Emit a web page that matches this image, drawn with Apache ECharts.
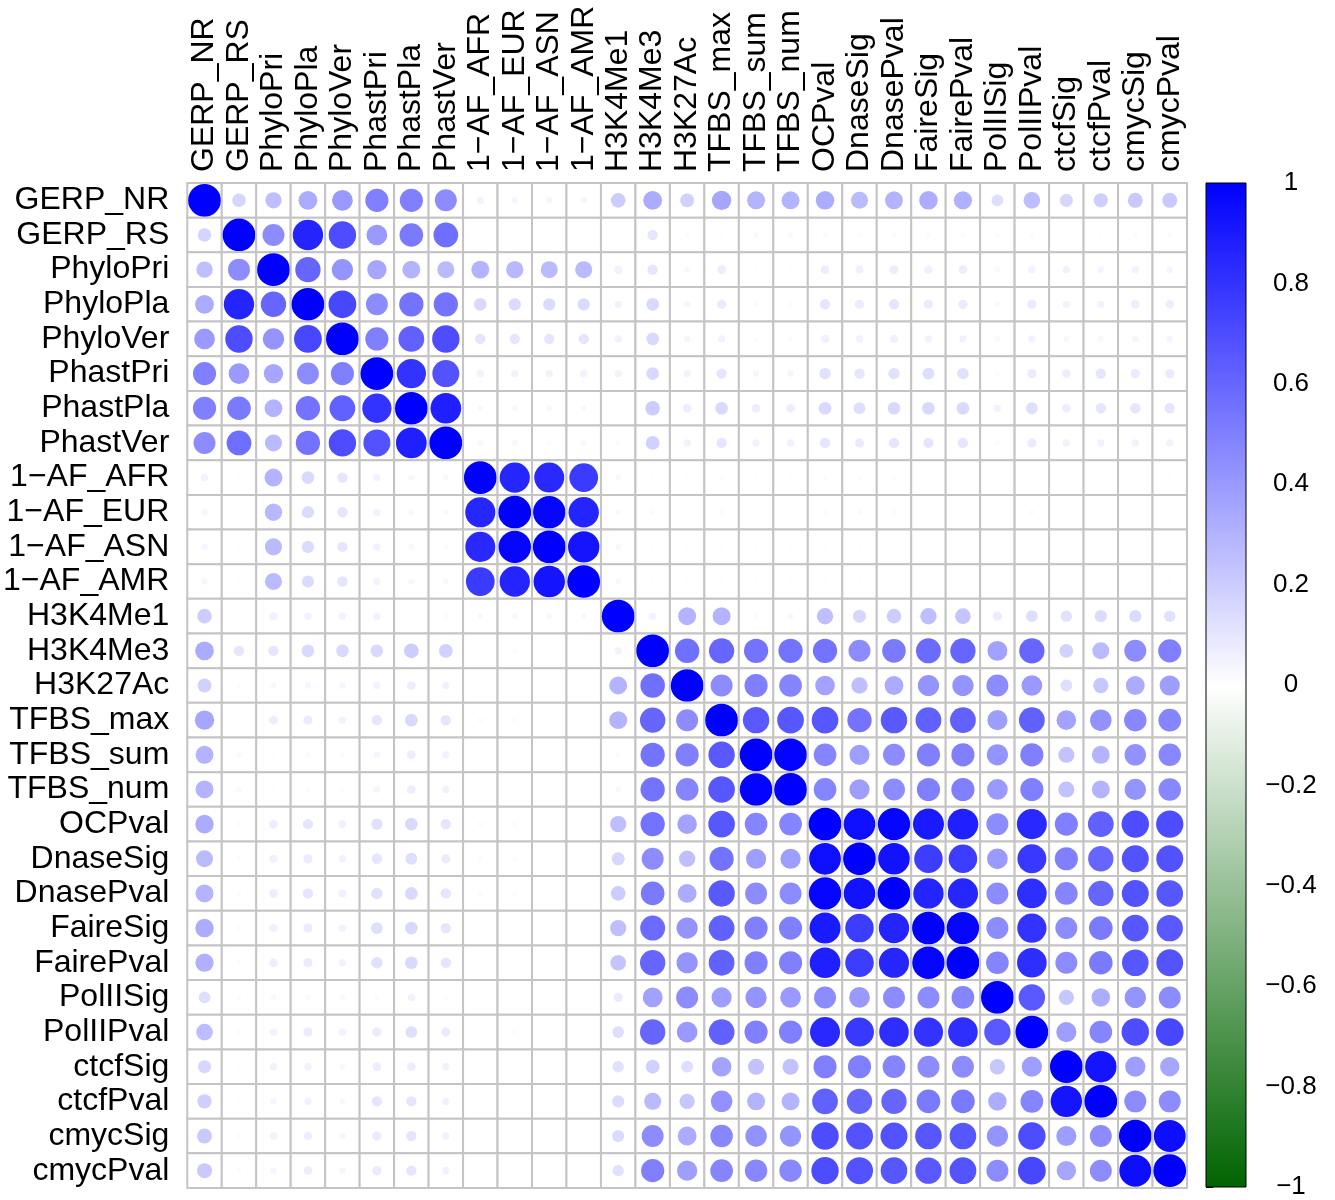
<!DOCTYPE html>
<html><head><meta charset="utf-8">
<script src="https://cdn.jsdelivr.net/npm/echarts/dist/echarts.min.js"></script>
<style>html,body{margin:0;padding:0;background:#fff}#c{width:1335px;height:1200px}</style>
</head><body><div id="c"></div><script>
const labels = ["GERP_NR","GERP_RS","PhyloPri","PhyloPla","PhyloVer","PhastPri","PhastPla","PhastVer",
  "1\u2212AF_AFR","1\u2212AF_EUR","1\u2212AF_ASN","1\u2212AF_AMR","H3K4Me1","H3K4Me3","H3K27Ac",
  "TFBS_max","TFBS_sum","TFBS_num","OCPval","DnaseSig","DnasePval","FaireSig","FairePval",
  "PolIISig","PolIIPval","ctcfSig","ctcfPval","cmycSig","cmycPval"];

// upper triangle of the correlation matrix: row i lists columns i+1..28
const upper = [
  [0.17,0.25,0.33,0.40,0.50,0.50,0.45,0.05,0.04,0.04,0.04,0.20,0.33,0.18,0.35,0.30,0.30,0.32,0.27,0.30,0.32,0.31,0.13,0.26,0.16,0.19,0.21,0.21],
  [0.45,0.86,0.70,0.40,0.52,0.57,0.01,0.01,0.01,0.01,0.01,0.10,0.02,0.01,-0.03,-0.03,0.02,0.02,0.02,0.02,0.02,0.02,0.02,0.01,0.01,0.02,0.02],
  [0.60,0.42,0.35,0.30,0.27,0.30,0.28,0.27,0.27,0.06,0.10,0.03,0.07,0.01,0.01,0.07,0.06,0.07,0.06,0.07,-0.03,0.05,0.05,0.04,0.05,0.04],
  [0.72,0.45,0.55,0.55,0.15,0.14,0.14,0.14,0.05,0.15,0.04,0.08,0.02,0.02,0.10,0.08,0.10,0.08,0.08,-0.03,0.08,0.05,0.05,0.07,0.07],
  [0.50,0.62,0.70,0.10,0.10,0.10,0.10,0.05,0.15,0.04,0.05,0.02,0.02,0.06,0.05,0.06,0.05,0.05,-0.03,0.05,0.03,0.03,0.04,0.04],
  [0.80,0.68,0.05,0.05,0.05,0.05,0.05,0.15,0.05,0.10,0.04,0.04,0.12,0.10,0.12,0.13,0.12,0.02,0.08,0.07,0.10,0.08,0.08],
  [0.88,0.03,0.03,0.03,0.03,0.01,0.20,0.07,0.15,0.07,0.07,0.15,0.13,0.15,0.15,0.15,0.05,0.13,0.07,0.10,0.10,0.10],
  [0.03,0.03,0.02,0.03,-0.02,0.18,0.05,0.10,0.05,0.05,0.10,0.08,0.10,0.10,0.10,0.02,0.08,0.05,0.05,0.05,0.05],
  [0.85,0.84,0.77,0.03,0.01,0.01,0.02,0.01,0.01,0.02,0.02,0.02,0.01,0.01,0.00,0.01,0.00,0.00,0.01,0.01],
  [0.98,0.86,0.03,0.02,0.01,0.02,0.01,0.01,0.02,0.02,0.02,0.01,0.01,0.01,0.02,0.01,0.01,0.01,0.01],
  [0.92,0.03,0.01,0.01,0.01,0.01,0.01,0.01,0.01,0.01,0.01,0.01,0.00,0.01,0.00,0.00,0.01,0.01],
  [0.03,0.01,0.01,0.01,0.01,0.01,0.01,0.01,0.01,0.01,0.01,0.00,0.01,0.00,0.00,0.01,0.01],
  [0.05,0.30,0.30,0.02,0.03,0.25,0.16,0.20,0.25,0.23,0.08,0.13,0.12,0.14,0.14,0.12],
  [0.56,0.60,0.55,0.55,0.55,0.45,0.52,0.58,0.60,0.37,0.60,0.18,0.27,0.45,0.50],
  [0.45,0.50,0.48,0.36,0.25,0.33,0.42,0.42,0.45,0.40,0.13,0.22,0.33,0.38],
  [0.65,0.66,0.66,0.55,0.65,0.62,0.62,0.38,0.62,0.36,0.43,0.47,0.48],
  [0.99,0.48,0.38,0.45,0.50,0.50,0.42,0.50,0.24,0.30,0.43,0.47],
  [0.48,0.38,0.45,0.50,0.50,0.40,0.50,0.24,0.30,0.42,0.47],
  [0.94,0.98,0.90,0.88,0.45,0.84,0.50,0.62,0.70,0.70],
  [0.93,0.76,0.76,0.40,0.78,0.50,0.60,0.68,0.68],
  [0.86,0.85,0.45,0.82,0.48,0.60,0.68,0.66],
  [0.98,0.45,0.80,0.45,0.52,0.66,0.65],
  [0.48,0.82,0.45,0.52,0.66,0.67],
  [0.65,0.22,0.32,0.42,0.45],
  [0.38,0.48,0.70,0.72],
  [0.92,0.38,0.35],
  [0.45,0.45],
  [0.95],
  []
];
const colorbarRange = [-1, 1];

const n = labels.length;
const cells = [];
for (let i = 0; i < n; i++) {
  for (let j = 0; j < n; j++) {
    let v;
    if (i === j) v = 1;
    else if (j > i) v = upper[i][j - i - 1];
    else v = upper[j][i - j - 1];
    cells.push([j, i, v]);
  }
}

const FONT = 'Liberation Sans, Arial, Helvetica, sans-serif';
const chart = echarts.init(document.getElementById('c'));
chart.setOption({
  backgroundColor: '#fff',
  animation: false,
  grid: [
    {left: 183, top: 183, width: 1004, height: 1005},
    {left: 1206, top: 183, width: 40, height: 1005}
  ],
  xAxis: [
    {type: 'category', gridIndex: 0, data: labels, position: 'top',
     axisLine: {show: false}, axisTick: {show: false}, splitLine: {show: false},
     axisLabel: {rotate: -90, interval: 0, fontSize: 32, color: '#000', fontFamily: FONT, margin: 11}},
    {type: 'value', gridIndex: 1, min: 0, max: 1, show: false}
  ],
  yAxis: [
    {type: 'category', gridIndex: 0, data: labels, inverse: true,
     axisLine: {show: false}, axisTick: {show: false}, splitLine: {show: false},
     axisLabel: {interval: 0, fontSize: 32, color: '#000', fontFamily: FONT, margin: 18}},
    {type: 'value', gridIndex: 1, min: colorbarRange[0], max: colorbarRange[1], interval: 0.2, position: 'right',
     axisLine: {show: true, lineStyle: {color: '#000', width: 1}},
     axisTick: {show: true, length: 7, lineStyle: {color: '#000', width: 1}},
     splitLine: {show: false},
     axisLabel: {fontSize: 26, color: '#000', fontFamily: FONT, margin: 45, align: 'center',
       formatter: v => { const r = Math.round(v * 10) / 10; return r < 0 ? '\u2212' + Math.abs(r) : String(r); }}}
  ],
  visualMap: {
    show: false, type: 'continuous', seriesIndex: 0, dimension: 2, min: -1, max: 1,
    inRange: {color: ['#006400', '#ffffff', '#0000ff']}
  },
  series: [
    {
      type: 'custom', xAxisIndex: 0, yAxisIndex: 0, data: cells,
      renderItem: (params, api) => {
        const c = api.coord([api.value(0), api.value(1)]);
        const s = api.size([1, 1]);
        const w = s[0], h = s[1];
        const r = 0.475 * Math.sqrt(Math.abs(api.value(2))) * Math.min(w, h);
        return {type: 'group', children: [
          {type: 'rect', shape: {x: c[0] - w / 2, y: c[1] - h / 2, width: w, height: h},
           style: {fill: '#fff', stroke: '#c4c4c4', lineWidth: 2}},
          {type: 'circle', shape: {cx: c[0], cy: c[1], r: r}, style: {fill: api.visual('color')}}
        ]};
      }
    },
    {
      type: 'custom', xAxisIndex: 1, yAxisIndex: 1, data: [[0]],
      renderItem: (params, api) => {
        const top = api.coord([0, colorbarRange[1]]);
        const bot = api.coord([1, colorbarRange[0]]);
        return {type: 'rect', shape: {x: top[0], y: top[1], width: bot[0] - top[0], height: bot[1] - top[1]},
          style: {stroke: '#000', lineWidth: 1,
            fill: new echarts.graphic.LinearGradient(0, 0, 0, 1, [
              {offset: 0, color: '#0000ff'}, {offset: 0.5, color: '#ffffff'}, {offset: 1, color: '#006400'}])}};
      }
    }
  ]
});
</script></body></html>
